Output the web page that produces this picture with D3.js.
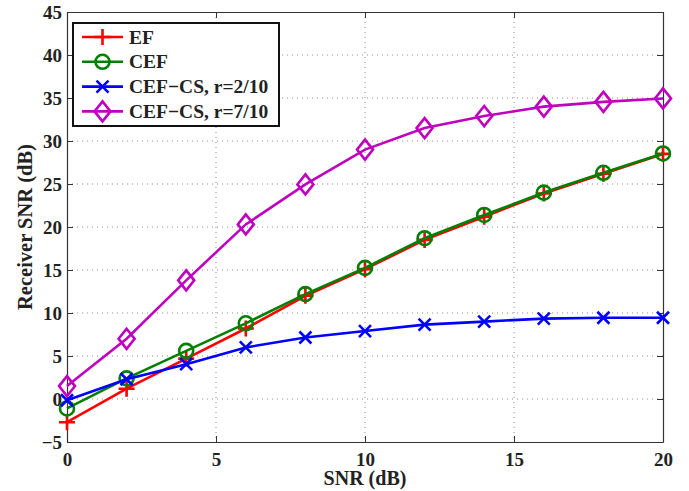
<!DOCTYPE html>
<html>
<head>
<meta charset="utf-8">
<script src="https://cdn.jsdelivr.net/npm/d3@7"></script>
<style>
  body { margin: 0; background: #fff; }
  text { font-family: "Liberation Serif", "Times New Roman", serif; font-weight: bold; }
</style>
</head>
<body>
<svg width="689" height="491"></svg>
<script>
const snr = [0, 2, 4, 6, 8, 10, 12, 14, 16, 18, 20];
const ef = [-2.7, 1.2, 4.7, 8.2, 12.0, 15.1, 18.5, 21.2, 23.9, 26.2, 28.5];
const cef = [-1.1, 2.4, 5.6, 8.8, 12.2, 15.25, 18.7, 21.4, 24.0, 26.3, 28.55];
const cefCs2 = [-0.15, 2.3, 4.05, 6.0, 7.15, 7.9, 8.65, 9.0, 9.35, 9.45, 9.45];
const cefCs7 = [1.5, 7.0, 13.8, 20.3, 24.95, 29.0, 31.5, 32.9, 34.0, 34.55, 34.95];
const xTicks = [0, 5, 10, 15, 20];
const yTicks = [-5, 0, 5, 10, 15, 20, 25, 30, 35, 40, 45];

const series = [
    { name: 'EF', values: ef, color: '#ff0000', marker: 'plus' },
    { name: 'CEF', values: cef, color: '#008000', marker: 'circle' },
    { name: 'CEF\u2212CS, r=2/10', values: cefCs2, color: '#0000ff', marker: 'cross' },
    { name: 'CEF\u2212CS, r=7/10', values: cefCs7, color: '#bf00bf', marker: 'diamond' }
];

const svg = d3.select('svg');
const margin = { top: 12, right: 26, bottom: 49, left: 67 };
const width = +svg.attr('width');
const height = +svg.attr('height');
const innerWidth = width - margin.left - margin.right;
const innerHeight = height - margin.top - margin.bottom;

const xScale = d3.scaleLinear().domain([0, 20]).range([0, innerWidth]);
const yScale = d3.scaleLinear().domain([-5, 45]).range([innerHeight, 0]);

const g = svg.append('g').attr('transform', `translate(${margin.left}, ${margin.top})`);

// grid
g.append('g').selectAll('line').data(xTicks.filter(d => d > 0 && d < 20))
    .enter().append('line')
    .attr('x1', d => xScale(d)).attr('x2', d => xScale(d))
    .attr('y1', 0).attr('y2', innerHeight)
    .attr('stroke', '#8c8c8c').attr('stroke-width', 1).attr('stroke-dasharray', '1,4');
g.append('g').selectAll('line').data(yTicks.filter(d => d > -5 && d < 45))
    .enter().append('line')
    .attr('y1', d => yScale(d)).attr('y2', d => yScale(d))
    .attr('x1', 0).attr('x2', innerWidth)
    .attr('stroke', '#8c8c8c').attr('stroke-width', 1).attr('stroke-dasharray', '1,4');

// axes (ticks inward, MATLAB style box)
const xAxisG = g.append('g').attr('transform', `translate(0, ${innerHeight})`)
    .call(d3.axisBottom(xScale).tickValues(xTicks).tickSize(-6).tickPadding(11).tickSizeOuter(0));
const xTopG = g.append('g')
    .call(d3.axisTop(xScale).tickValues(xTicks).tickSize(-6).tickSizeOuter(0));
const yAxisG = g.append('g')
    .call(d3.axisLeft(yScale).tickValues(yTicks).tickSize(-6).tickPadding(5).tickSizeOuter(0)
        .tickFormat(d => d < 0 ? '\u2212' + Math.abs(d) : d));
const yRightG = g.append('g').attr('transform', `translate(${innerWidth}, 0)`)
    .call(d3.axisRight(yScale).tickValues(yTicks).tickSize(-6).tickSizeOuter(0));
xTopG.selectAll('text').remove();
yRightG.selectAll('text').remove();

[xAxisG, xTopG, yAxisG, yRightG].forEach(a => {
    a.attr('font-size', 19).attr('font-family', null);
    a.selectAll('.domain').attr('stroke', '#333').attr('stroke-width', 1.2);
    a.selectAll('.tick line').attr('stroke', '#333');
    a.selectAll('text').attr('fill', '#222');
});

xAxisG.append('text')
    .attr('x', innerWidth / 2).attr('y', 43)
    .attr('text-anchor', 'middle').attr('fill', '#222').attr('font-size', 20)
    .text('SNR (dB)');

yAxisG.append('text')
    .attr('transform', 'rotate(-90)')
    .attr('x', -innerHeight / 2).attr('y', -35)
    .attr('text-anchor', 'middle').attr('fill', '#222').attr('font-size', 20.5)
    .text('Receiver SNR (dB)');

// markers
const drawMarker = (sel, type, color) => {
    if (type === 'plus') {
        sel.append('path').attr('d', 'M-8,0H8M0,-8V8');
    } else if (type === 'circle') {
        sel.append('circle').attr('r', 7).attr('fill', 'none');
    } else if (type === 'cross') {
        sel.append('path').attr('d', 'M-6,-6L6,6M-6,6L6,-6');
    } else if (type === 'diamond') {
        sel.append('path').attr('d', 'M0,-10L8,0L0,10L-8,0Z').attr('fill', 'none');
    }
    sel.selectAll('*').attr('stroke', color).attr('stroke-width', 2.6);
};

const line = d3.line().x(d => xScale(d[0])).y(d => yScale(d[1]));

series.forEach(s => {
    const pts = snr.map((x, i) => [x, s.values[i]]);
    g.append('path').datum(pts)
        .attr('d', line).attr('fill', 'none')
        .attr('stroke', s.color).attr('stroke-width', 2.6);
    g.selectAll(null).data(pts).enter().append('g')
        .attr('transform', d => `translate(${xScale(d[0])}, ${yScale(d[1])})`)
        .each(function () { drawMarker(d3.select(this), s.marker, s.color); });
});

// legend
const legend = svg.append('g').attr('transform', 'translate(73, 23)');
legend.append('rect')
    .attr('width', 206).attr('height', 103)
    .attr('fill', '#fff').attr('stroke', '#111').attr('stroke-width', 2);
series.forEach((s, i) => {
    const row = legend.append('g').attr('transform', `translate(0, ${14 + i * 24.8})`);
    row.append('line').attr('x1', 9).attr('x2', 50)
        .attr('stroke', s.color).attr('stroke-width', 2.6);
    const m = row.append('g').attr('transform', 'translate(29.5, 0)');
    drawMarker(m, s.marker, s.color);
    row.append('text').attr('x', 56).attr('y', 6.5)
        .attr('font-size', 19.5).attr('fill', '#222').text(s.name);
});
</script>
</body>
</html>
